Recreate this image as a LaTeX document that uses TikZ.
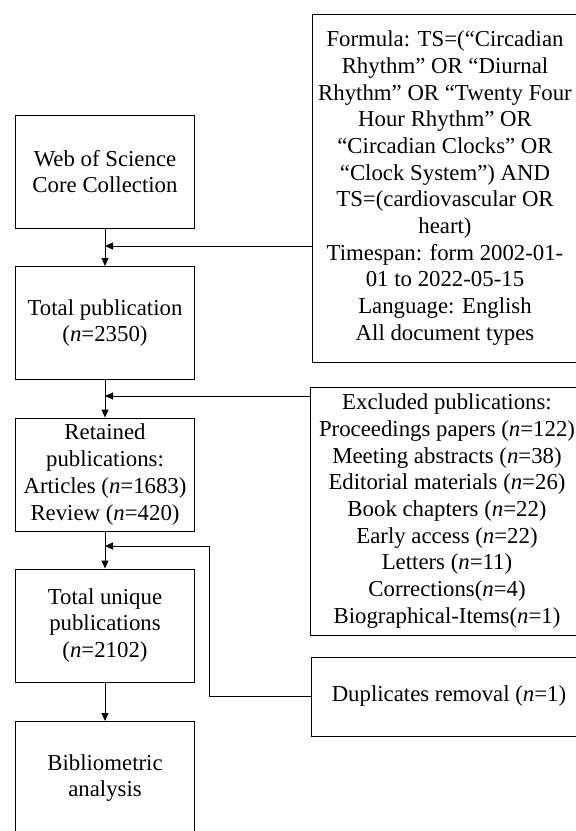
\documentclass[tikz,border=0pt]{standalone}
\usepackage{fontspec}
\setmainfont{Liberation Serif}
\usetikzlibrary{arrows.meta,positioning,calc}
\tikzset{
  flowbox/.style={draw=black,line width=1pt,minimum width=179pt,minimum height=113pt,
    align=center,inner sep=1pt,font=\fontsize{22.8}{26.7}\selectfont},
  sidebox/.style={flowbox,minimum width=266pt},
  mainflow/.style={-{Triangle[length=8pt,width=7pt]},line width=1pt,draw=black}
}
\newcommand{\nn}{\textit{n}}

\begin{document}
\begin{tikzpicture}[x=1pt,y=-1pt]
  \useasboundingbox (0,0) rectangle (576,831);
  \node[flowbox] (wos) at (105,171.5) {Web of Science\\Core Collection};
  \node[flowbox] (total) at (105,323) {Total publication\\(\nn=2350)};
  \node[flowbox] (retain) at (105,474.5) {Retained\\publications:\\Articles (\nn=1683)\\Review (\nn=420)};
  \node[flowbox] (uniq) at (105,625.5) {Total unique\\publications\\(\nn=2102)};
  \node[flowbox] (biblio) at (105,778) {Bibliometric\\analysis};
  \node[sidebox,minimum height=348pt] (formula) at (445,188) {Formula: TS=(“Circadian\\Rhythm” OR “Diurnal\\Rhythm” OR “Twenty Four\\Hour Rhythm” OR\\“Circadian Clocks” OR\\“Clock System”) AND\\TS=(cardiovascular OR\\heart)\\Timespan: form 2002-01-\\01 to 2022-05-15\\Language: English\\All document types};
  \node[sidebox,minimum width=274pt,minimum height=248pt] (excl) at (447,511) {Excluded publications:\\Proceedings papers (\nn=122)\\Meeting abstracts (\nn=38)\\Editorial materials (\nn=26)\\Book chapters (\nn=22)\\Early access (\nn=22)\\Letters (\nn=11)\\Corrections(\nn=4)\\Biographical-Items(\nn=1)};
  \node[sidebox,minimum width=276pt,minimum height=79pt] (dup) at (449,696.5) {Duplicates removal (\nn=1)};
  \coordinate (j1) at (105,246);
  \coordinate (j2) at (105,396);
  \coordinate (j3) at (105,546);
  \coordinate (bend) at (209,546);
  \draw[mainflow] (wos) -- (total);
  \draw[mainflow] (total) -- (retain);
  \draw[mainflow] (retain) -- (uniq);
  \draw[mainflow] (uniq) -- (biblio);
  \draw[mainflow] (formula.west |- j1) -- (j1);
  \draw[mainflow] (excl.west |- j2) -- (j2);
  \draw[mainflow] (dup.west) -| (bend) -- (j3);
\end{tikzpicture}
\end{document}
